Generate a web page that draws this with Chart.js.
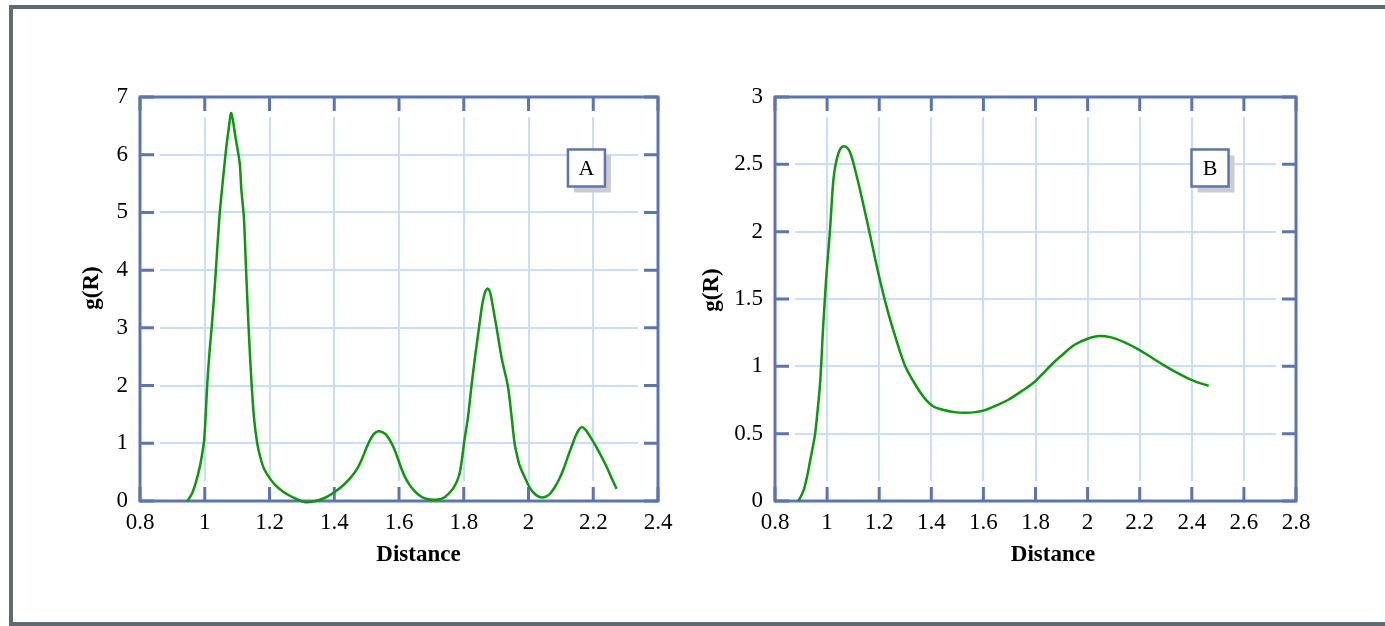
<!DOCTYPE html>
<html><head><meta charset="utf-8">
<script src="https://cdn.jsdelivr.net/npm/chart.js@4.4.1/dist/chart.umd.min.js"></script>
<style>
html,body{margin:0;padding:0;background:#fff;width:1385px;height:626px;overflow:hidden;position:relative;}
#frame{position:absolute;left:9px;top:5px;width:1420px;height:621px;box-sizing:border-box;border:4px solid #5f6a71;border-right:none;}
canvas{position:absolute;top:0;}
#cA{left:0;} #cB{left:700px;}
</style></head><body>
<div id="frame"></div>
<canvas id="cA" width="700" height="626"></canvas>
<canvas id="cB" width="685" height="626"></canvas>
<script>
// ---- Data ----
const distA = [0.946,0.96,0.973,0.985,0.993,0.998,1.003,1.008,1.015,1.022,1.032,1.045,1.055,1.066,1.074,1.082,1.095,1.108,1.113,1.121,1.127,1.133,1.139,1.145,1.152,1.162,1.172,1.183,1.2,1.217,1.24,1.26,1.285,1.31,1.335,1.36,1.38,1.4,1.425,1.45,1.471,1.485,1.498,1.51,1.522,1.537,1.55,1.56,1.573,1.587,1.6,1.614,1.63,1.648,1.67,1.69,1.705,1.72,1.736,1.752,1.769,1.786,1.795,1.802,1.813,1.824,1.835,1.847,1.857,1.866,1.874,1.882,1.892,1.903,1.918,1.936,1.947,1.957,1.965,1.973,1.99,2.005,2.018,2.03,2.042,2.055,2.067,2.08,2.095,2.11,2.123,2.135,2.145,2.155,2.164,2.175,2.19,2.211,2.228,2.244,2.258,2.272];
const gA = [0,0.12,0.33,0.6,0.85,1.05,1.5,2.05,2.6,3.05,3.8,4.9,5.5,6.1,6.45,6.72,6.3,5.85,5.4,4.9,4.1,3.3,2.6,2.0,1.45,1.0,0.75,0.56,0.4,0.28,0.17,0.1,0.03,-0.02,-0.01,0.03,0.08,0.15,0.26,0.4,0.56,0.72,0.9,1.05,1.16,1.21,1.19,1.15,1.04,0.88,0.68,0.47,0.3,0.17,0.07,0.03,0.02,0.025,0.05,0.12,0.23,0.45,0.75,1.05,1.45,2.0,2.5,3.0,3.4,3.62,3.68,3.6,3.3,2.95,2.45,2.0,1.5,1.0,0.78,0.61,0.39,0.22,0.13,0.08,0.06,0.08,0.13,0.23,0.38,0.58,0.79,0.97,1.12,1.23,1.28,1.24,1.12,0.92,0.74,0.56,0.38,0.21];
const distB = [0.89,0.91,0.923,0.935,0.945,0.954,0.965,0.974,0.985,0.996,1.011,1.024,1.043,1.065,1.088,1.114,1.152,1.197,1.23,1.265,1.3,1.334,1.36,1.385,1.41,1.44,1.488,1.532,1.57,1.606,1.65,1.694,1.75,1.797,1.83,1.86,1.9,1.95,2.0,2.045,2.09,2.14,2.2,2.25,2.3,2.355,2.41,2.465];
const gB = [0,0.08,0.18,0.3,0.4,0.5,0.7,0.9,1.3,1.64,2.01,2.38,2.58,2.635,2.59,2.41,2.09,1.69,1.43,1.2,1.0,0.88,0.8,0.74,0.7,0.68,0.66,0.655,0.66,0.675,0.71,0.75,0.82,0.886,0.95,1.01,1.08,1.16,1.205,1.225,1.215,1.18,1.12,1.06,1.0,0.94,0.89,0.855];
const xTicksA = [0.8,1,1.2,1.4,1.6,1.8,2,2.2,2.4];
const yTicksA = [0,1,2,3,4,5,6,7];
const xTicksB = [0.8,1,1.2,1.4,1.6,1.8,2,2.2,2.4,2.6,2.8];
const yTicksB = [0,0.5,1,1.5,2,2.5,3];
const xTitle = 'Distance';
const yTitle = 'g(R)';
const panelLabelA = 'A';
const panelLabelB = 'B';
const labelPosA = [2.179, 5.77];
const labelPosB = [2.47, 2.473];

// ---- Style ----
const AXIS = '#5b74b6';
const GRID = '#c9defc';
const LINE = '#0a990a';
const SERIF = '"Liberation Serif","Times New Roman",serif';

const fmt = v => String(parseFloat(Number(v).toFixed(2)));

const deco = {
  id: 'deco',
  beforeDatasetsDraw(chart, args, o) {
    const {ctx, chartArea:{left,top,right,bottom}, scales:{x,y}} = chart;
    const g = 20, tl = 14;
    ctx.save();
    ctx.fillStyle = '#fff';
    ctx.fillRect(left, top, g, bottom-top);
    ctx.fillRect(right-g, top, g, bottom-top);
    ctx.fillRect(left, top, right-left, g);
    ctx.fillRect(left, bottom-g, right-left, g);
    ctx.strokeStyle = AXIS; ctx.lineWidth = 3;
    ctx.beginPath();
    x.ticks.forEach(t => {
      const px = x.getPixelForValue(t.value);
      ctx.moveTo(px, bottom); ctx.lineTo(px, bottom-tl);
      ctx.moveTo(px, top); ctx.lineTo(px, top+tl);
    });
    y.ticks.forEach(t => {
      const py = y.getPixelForValue(t.value);
      ctx.moveTo(left, py); ctx.lineTo(left+tl, py);
      ctx.moveTo(right, py); ctx.lineTo(right-tl, py);
    });
    ctx.stroke();
    ctx.strokeRect(left, top, right-left, bottom-top);
    ctx.restore();
  },
  afterDatasetsDraw(chart, args, o) {
    const {ctx, scales:{x,y}} = chart;
    const cx = x.getPixelForValue(o.labelPos[0]);
    const cy = y.getPixelForValue(o.labelPos[1]);
    const s = 37;
    ctx.save();
    ctx.fillStyle = '#cccccc';
    ctx.fillRect(cx - s/2 + 6, cy - s/2 + 6, s, s);
    ctx.fillStyle = '#fff';
    ctx.fillRect(cx - s/2, cy - s/2, s, s);
    ctx.strokeStyle = AXIS; ctx.lineWidth = 2.5;
    ctx.strokeRect(cx - s/2, cy - s/2, s, s);
    ctx.fillStyle = '#000';
    ctx.font = '22px ' + SERIF;
    ctx.textAlign = 'center'; ctx.textBaseline = 'middle';
    ctx.fillText(o.label, cx, cy + 1);
    ctx.restore();
  },
  afterDraw(chart, args, o) {
    const {ctx} = chart;
    ctx.save();
    ctx.fillStyle = '#000';
    ctx.font = 'bold 23px ' + SERIF;
    ctx.textAlign = 'center'; ctx.textBaseline = 'middle';
    ctx.fillText(o.xTitle, o.xTitlePos[0], o.xTitlePos[1]);
    ctx.translate(o.yTitlePos[0], o.yTitlePos[1]);
    ctx.rotate(-Math.PI/2);
    ctx.fillText(o.yTitle, 0, 0);
    ctx.restore();
  }
};

function makeChart(id, xs, ys, xt, yt, cfg) {
  const tickFont = {family: SERIF, size: 23};
  return new Chart(document.getElementById(id), {
    type: 'line',
    data: { datasets: [{
      data: xs.map((v,i) => ({x: v, y: ys[i]})),
      borderColor: LINE, borderWidth: 2.5, pointRadius: 0, fill: false,
      tension: cfg.tension, cubicInterpolationMode: cfg.mode, clip: 6,
      borderJoinStyle: 'miter'
    }]},
    options: {
      responsive: false, animation: false, devicePixelRatio: 1,
      layout: {padding: {left: 0, top: 97, right: cfg.padRight, bottom: 0}},
      plugins: {legend: {display: false}, tooltip: {enabled: false}, deco: cfg.deco},
      scales: {
        x: {
          type: 'linear', min: xt[0], max: xt[xt.length-1],
          afterBuildTicks: s => { s.ticks = xt.map(v => ({value: v})); },
          afterFit: s => { s.height = 125; },
          grid: {color: GRID, lineWidth: 2, drawTicks: false},
          border: {display: false},
          ticks: {padding: 8, color: '#000', font: tickFont, callback: v => fmt(v), maxRotation: 0, autoSkip: false}
        },
        y: {
          type: 'linear', min: yt[0], max: yt[yt.length-1],
          afterBuildTicks: s => { s.ticks = yt.map(v => ({value: v})); },
          afterFit: s => { s.width = cfg.yWidth; },
          grid: {color: GRID, lineWidth: 2, drawTicks: false},
          border: {display: false},
          ticks: {padding: 12, color: '#000', font: tickFont, callback: v => fmt(v), autoSkip: false}
        }
      }
    },
    plugins: [deco]
  });
}

makeChart('cA', distA, gA, xTicksA, yTicksA, {
  tension: 0.3, mode: 'default', padRight: 42, yWidth: 140,
  deco: {label: panelLabelA, labelPos: labelPosA, xTitle: xTitle, yTitle: yTitle, xTitlePos: [418.5, 555], yTitlePos: [92, 288]}
});
makeChart('cB', distB, gB, xTicksB, yTicksB, {
  tension: 0.4, mode: 'monotone', padRight: 89, yWidth: 75,
  deco: {label: panelLabelB, labelPos: labelPosB, xTitle: xTitle, yTitle: yTitle, xTitlePos: [353, 555], yTitlePos: [12, 290]}
});
</script>
</body></html>
